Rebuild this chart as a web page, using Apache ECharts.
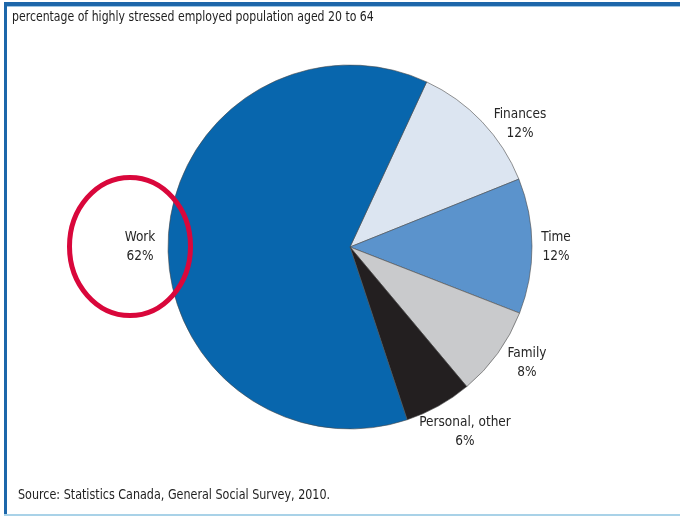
<!DOCTYPE html>
<html>
<head>
<meta charset="utf-8">
<script src="https://cdn.jsdelivr.net/npm/echarts@6/dist/echarts.min.js"></script>
<style>
html,body{margin:0;padding:0;background:#fff;}
#chart{width:680px;height:518px;}
</style>
</head>
<body>
<div id="chart"></div>
<script>
const categories = ['Finances', 'Time', 'Family', 'Personal, other', 'Work'];
const values = [12, 12, 8, 6, 62];
const sliceColors = ['#dce5f1', '#5b93cc', '#c9cacc', '#231f20', '#0866ad'];
const titleText = 'percentage of highly stressed employed population aged 20 to 64';
const sourceText = 'Source: Statistics Canada, General Social Survey, 2010.';

const FONT = "'DejaVu Sans Condensed', 'Liberation Sans Narrow', 'Roboto', sans-serif";
const labelPos = [[520, 124], [556, 247], [527, 363], [465, 432], [140, 247]];

const chart = echarts.init(document.getElementById('chart'));
chart.setOption({
  animation: false,
  backgroundColor: '#ffffff',
  graphic: [
    { type: 'rect', shape: { x: 4, y: 2, width: 676, height: 4 }, style: { fill: '#1d67aa' }, z: 10 },
    { type: 'rect', shape: { x: 4, y: 6, width: 676, height: 1 }, style: { fill: '#9cc4e2' }, z: 10 },
    { type: 'rect', shape: { x: 4, y: 2, width: 3, height: 512 }, style: { fill: '#1d67aa' }, z: 10 },
    { type: 'rect', shape: { x: 4, y: 514, width: 676, height: 2 }, style: { fill: '#a9d2e8' }, z: 10 },
    { type: 'text', x: 12, y: 10, scaleX: 0.9, style: { text: titleText, font: "500 13.5px " + FONT, fill: '#1e1e1e' } },
    { type: 'text', x: 18, y: 488, scaleX: 0.92, style: { text: sourceText, font: "13.5px " + FONT, fill: '#1e1e1e' } },
    { type: 'ellipse', shape: { cx: 130, cy: 246.5, rx: 60.5, ry: 69 }, style: { fill: 'none', stroke: '#d9073b', lineWidth: 5 }, z: 20 }
  ],
  series: [{
    type: 'pie',
    center: [350, 247],
    radius: [0, 182],
    startAngle: 65.1,
    clockwise: true,
    avoidLabelOverlap: false,
    data: categories.map((c, i) => ({ name: c, value: values[i], itemStyle: { color: sliceColors[i] } })),
    itemStyle: { borderColor: '#4a4a4a', borderWidth: 0.6 },
    label: {
      show: true,
      position: 'outside',
      formatter: p => p.name + '\n' + p.value + '%',
      fontFamily: FONT,
      fontSize: 13.5,
      lineHeight: 19,
      color: '#262626',
      align: 'center'
    },
    labelLine: { show: false },
    labelLayout: function (params) {
      const pos = labelPos[params.dataIndex];
      return { x: pos[0], y: pos[1], align: 'center', verticalAlign: 'middle' };
    },
    emphasis: { disabled: true }
  }]
});
</script>
</body>
</html>
